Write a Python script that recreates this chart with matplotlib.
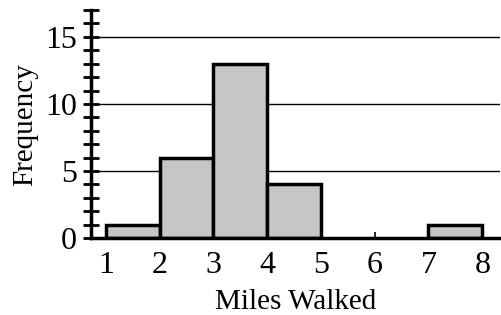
import numpy as np
import matplotlib.pyplot as plt

plt.rcParams['font.family'] = ['Liberation Serif', 'DejaVu Serif']

# histogram data
bin_edges = [1, 2, 3, 4, 5, 6, 7, 8]
counts = [1, 6, 13, 4, 0, 0, 1]
x_ticks = [1, 2, 3, 4, 5, 6, 7, 8]
y_ticks = [0, 5, 10, 15]

fig = plt.figure(figsize=(5.02, 3.15), dpi=100)
ax = fig.add_axes([0.181, 0.244, 0.815, 0.724])

# gridlines behind bars
for v in [5, 10, 15]:
    ax.axhline(v, color='black', lw=1.0, zorder=0)

lefts = bin_edges[:-1]
widths = np.diff(bin_edges)
for l, w, c in zip(lefts, widths, counts):
    if c > 0:
        ax.bar(l, c, width=w, align='edge', color='#c6c6c6',
               edgecolor='black', linewidth=2.5, zorder=2)

ax.set_xlim(0.72, 8.33)
ax.set_ylim(0, 17)

for s in ['top', 'right']:
    ax.spines[s].set_visible(False)
ax.spines['left'].set_linewidth(2.5)
ax.spines['bottom'].set_linewidth(2.5)
ax.spines['bottom'].set_zorder(3)

ax.set_xticks(x_ticks)
ax.set_yticks(y_ticks)
ax.set_yticks(range(0, 18), minor=True)
ax.tick_params(axis='y', which='both', direction='inout', length=12, width=2,
               labelsize=23, pad=4)
ax.tick_params(axis='x', direction='in', length=4, width=1.2, labelsize=23, pad=9)

ax.set_xlabel('Miles Walked', fontsize=21, labelpad=7)
ax.set_ylabel('Frequency', fontsize=21, labelpad=5)

fig.savefig('out.png', dpi=100)
